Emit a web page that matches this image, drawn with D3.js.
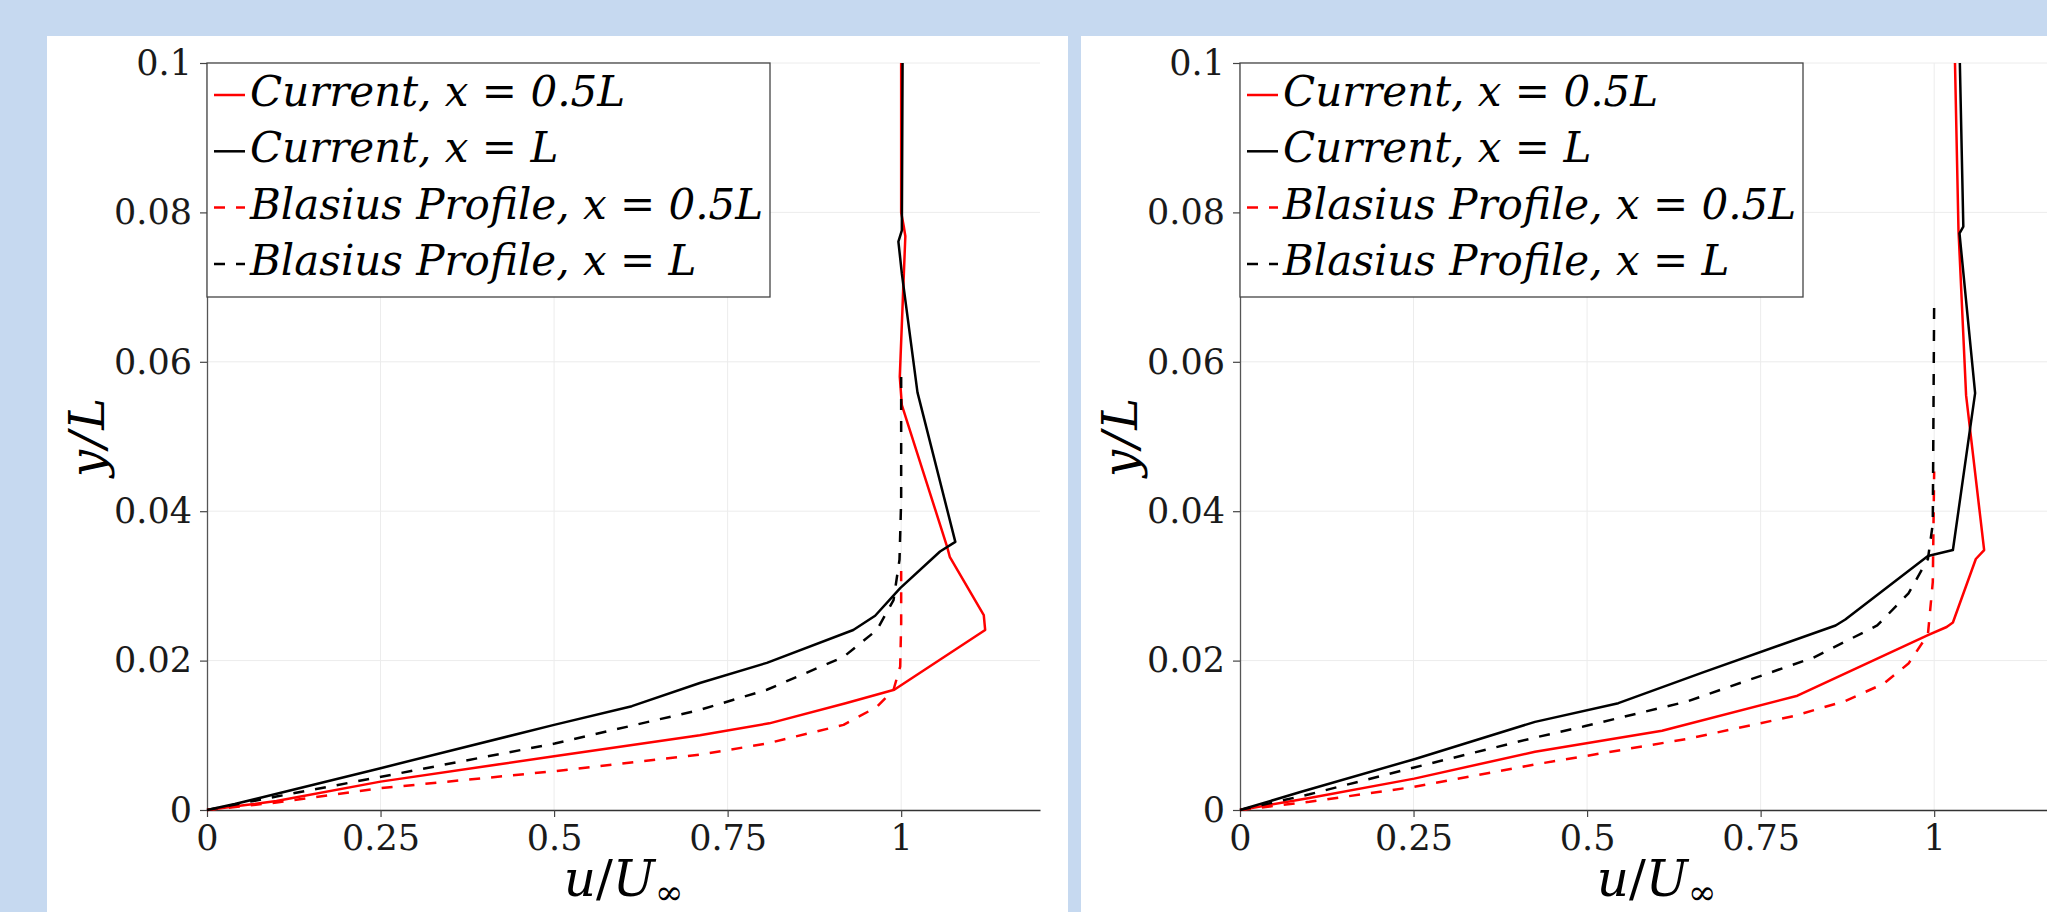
<!DOCTYPE html>
<html>
<head>
<meta charset="utf-8">
<script src="https://cdn.jsdelivr.net/npm/d3@7"></script>
<style>
  html, body { margin: 0; padding: 0; background: #c6d9f0; overflow: hidden; }
  svg { display: block; }
</style>
</head>
<body>
<svg id="chart" width="2047" height="912"></svg>
<script>
// tick values / labels
const uTicks = [0, 0.25, 0.5, 0.75, 1];
const uTickLabels = ["0", "0.25", "0.5", "0.75", "1"];
const yTicks = [0, 0.02, 0.04, 0.06, 0.08, 0.1];
const yTickLabels = ["0", "0.02", "0.04", "0.06", "0.08", "0.1"];
const seriesNames = ["Current, x = 0.5L", "Current, x = L", "Blasius Profile, x = 0.5L", "Blasius Profile, x = L"];

// left chart, [u/U, y/L]
const leftCurrentHalf = [[0,0],[0.05,0.0006],[0.1,0.0012],[0.25,0.0038],[0.5,0.0072],[0.71,0.0100],[0.81,0.0116],[0.92,0.0143],[0.99,0.0161],[1.121,0.0241],[1.119,0.0261],[1.07,0.0339],[1.066,0.0353],[1.001,0.0542],[0.998,0.058],[1.006,0.0768],[1.004,0.078],[1.0,0.08],[1.0,0.1]];
const leftCurrentFull = [[0,0],[0.04,0.0008],[0.08,0.0017],[0.25,0.0056],[0.5,0.0114],[0.612,0.0139],[0.71,0.0170],[0.8065,0.0197],[0.931,0.0241],[0.9625,0.026],[0.9986,0.0297],[1.056,0.0346],[1.078,0.0359],[1.0235,0.0559],[1.001,0.0718],[0.996,0.0761],[1.001,0.0776],[1.002,0.1]];
const leftBlasiusHalf = [[0,0],[0.1,0.0010],[0.248,0.0029],[0.501,0.0052],[0.71,0.0074],[0.8065,0.0089],[0.917,0.0114],[0.965,0.0138],[0.989,0.0161],[0.9986,0.0192],[1.0,0.025],[1.0,0.032]];
const leftBlasiusFull = [[0,0],[0.1,0.0018],[0.248,0.0044],[0.501,0.0089],[0.71,0.0134],[0.8065,0.0161],[0.917,0.0205],[0.965,0.0241],[0.989,0.0281],[0.9976,0.0335],[1.0,0.0415],[1.0,0.058]];

// right chart
const rightCurrentHalf = [[0,0],[0.1,0.0016],[0.251,0.0042],[0.425,0.0078],[0.608,0.0106],[0.803,0.0153],[0.991,0.0234],[1.018,0.0245],[1.027,0.0251],[1.06,0.0336],[1.072,0.0348],[1.046,0.0555],[1.035,0.0777],[1.03,0.1]];
const rightCurrentFull = [[0,0],[0.087,0.0024],[0.251,0.0068],[0.425,0.0118],[0.545,0.0143],[0.666,0.0184],[0.858,0.0247],[0.872,0.0255],[0.991,0.034],[1.027,0.0348],[1.059,0.0558],[1.0365,0.0772],[1.042,0.0781],[1.037,0.1]];
const rightBlasiusHalf = [[0,0],[0.1,0.0011],[0.251,0.0031],[0.425,0.0061],[0.496,0.0072],[0.643,0.0095],[0.799,0.0126],[0.872,0.0146],[0.927,0.0169],[0.963,0.0196],[0.991,0.0235],[0.998,0.0305],[1.0,0.0453]];
const rightBlasiusFull = [[0,0],[0.1,0.0021],[0.251,0.0057],[0.425,0.0097],[0.496,0.0112],[0.643,0.0145],[0.826,0.0204],[0.918,0.0247],[0.963,0.029],[0.991,0.0336],[0.998,0.0383],[1.0,0.0681]];

const lineColors = ["#ff0000", "#000000", "#ff0000", "#000000"];
const lineDashes = [null, null, "11,11", "11,11"];

let svg = d3.select("#chart");

svg.append("rect").attr("width", 2047).attr("height", 912).attr("fill", "#c6d9f0");
svg.append("rect").attr("x", 47).attr("y", 36).attr("width", 1021).attr("height", 876).attr("fill", "#fff");
svg.append("rect").attr("x", 1081).attr("y", 36).attr("width", 966).attr("height", 876).attr("fill", "#fff");

function drawChart(left, series)
{
    let top = 63, bottom = 810, width = 833;

    let xScale = d3.scaleLinear().domain([0, 1.2]).range([left, left + width]);
    let yScale = d3.scaleLinear().domain([0, 0.1]).range([bottom, top]);

    let g = svg.append("g")
        .style("font-family", "'DejaVu Serif', serif");

    //grid
    g.append("g").selectAll("line")
        .data(uTicks.slice(1))
        .enter().append("line")
        .attr("x1", d => xScale(d)).attr("x2", d => xScale(d))
        .attr("y1", top).attr("y2", bottom)
        .attr("stroke", "#ececec").attr("stroke-width", 1);

    g.append("g").selectAll("line")
        .data(yTicks.slice(1))
        .enter().append("line")
        .attr("x1", left).attr("x2", left + width)
        .attr("y1", d => yScale(d)).attr("y2", d => yScale(d))
        .attr("stroke", "#ececec").attr("stroke-width", 1);

    //axes
    let yAxis = g.append("g")
        .attr("transform", "translate(" + left + ",0)")
        .call(d3.axisLeft(yScale).tickValues(yTicks)
            .tickFormat((d, i) => yTickLabels[i])
            .tickSize(7).tickSizeOuter(0).tickPadding(8));

    let xAxis = g.append("g")
        .attr("transform", "translate(0," + bottom + ")")
        .call(d3.axisBottom(xScale).tickValues(uTicks)
            .tickFormat((d, i) => uTickLabels[i])
            .tickSize(7).tickSizeOuter(0).tickPadding(8));

    yAxis.select(".domain").attr("stroke", "#555").attr("stroke-width", 1.3);
    xAxis.select(".domain").attr("stroke", "#333").attr("stroke-width", 1.6);
    g.selectAll(".tick line").attr("stroke", "#444").attr("stroke-width", 1.2);
    g.selectAll(".tick text")
        .attr("fill", "#1a1a1a")
        .style("font-family", "'DejaVu Serif', serif")
        .style("font-size", "35px");

    //profiles
    let line = d3.line()
        .x(d => xScale(d[0]))
        .y(d => yScale(d[1]));

    g.append("g").selectAll("path")
        .data(series)
        .enter().append("path")
        .attr("d", d => line(d))
        .attr("fill", "none")
        .attr("stroke", (d, i) => lineColors[i])
        .attr("stroke-width", 2.5)
        .attr("stroke-linejoin", "round")
        .attr("stroke-dasharray", (d, i) => lineDashes[i]);

    //legend
    let lg = g.append("g");
    lg.append("rect")
        .attr("x", xScale(0)).attr("y", yScale(0.1))
        .attr("width", 563).attr("height", 234)
        .attr("fill", "#fff").attr("stroke", "#444").attr("stroke-width", 1.3);

    let items = lg.selectAll("g.item")
        .data(seriesNames)
        .enter().append("g")
        .attr("class", "item")
        .attr("transform", (d, i) => "translate(" + xScale(0) + "," + (yScale(0.1) + 43 + i * 56.3) + ")");

    items.append("line")
        .attr("x1", 7).attr("x2", 38)
        .attr("y1", -11).attr("y2", -11)
        .attr("stroke", (d, i) => lineColors[i])
        .attr("stroke-width", 2.5)
        .attr("stroke-dasharray", (d, i) => lineDashes[i]);

    items.append("text")
        .attr("x", 43)
        .attr("fill", "#000")
        .style("font-family", "'DejaVu Serif', serif")
        .style("font-style", "italic")
        .style("font-size", "42px")
        .text(d => d);

    //axis titles
    g.append("text")
        .attr("transform", "translate(" + (left - 120) + "," + ((top + bottom) / 2) + ") rotate(-90)")
        .attr("text-anchor", "middle")
        .attr("dy", "0.35em")
        .attr("fill", "#000")
        .style("font-style", "italic")
        .style("font-size", "48px")
        .style("letter-spacing", "2px")
        .text("y/L");

    let xt = g.append("text")
        .attr("x", left + width / 2)
        .attr("y", 896)
        .attr("text-anchor", "middle")
        .attr("fill", "#000")
        .style("font-size", "50px");
    xt.append("tspan").style("font-style", "italic").text("u");
    xt.append("tspan").text("/");
    xt.append("tspan").style("font-style", "italic").text("U");
    xt.append("tspan").attr("dy", 8).style("font-size", "34px").text("∞");
}

drawChart(207, [leftCurrentHalf, leftCurrentFull, leftBlasiusHalf, leftBlasiusFull]);
drawChart(1240, [rightCurrentHalf, rightCurrentFull, rightBlasiusHalf, rightBlasiusFull]);
</script>
</body>
</html>
